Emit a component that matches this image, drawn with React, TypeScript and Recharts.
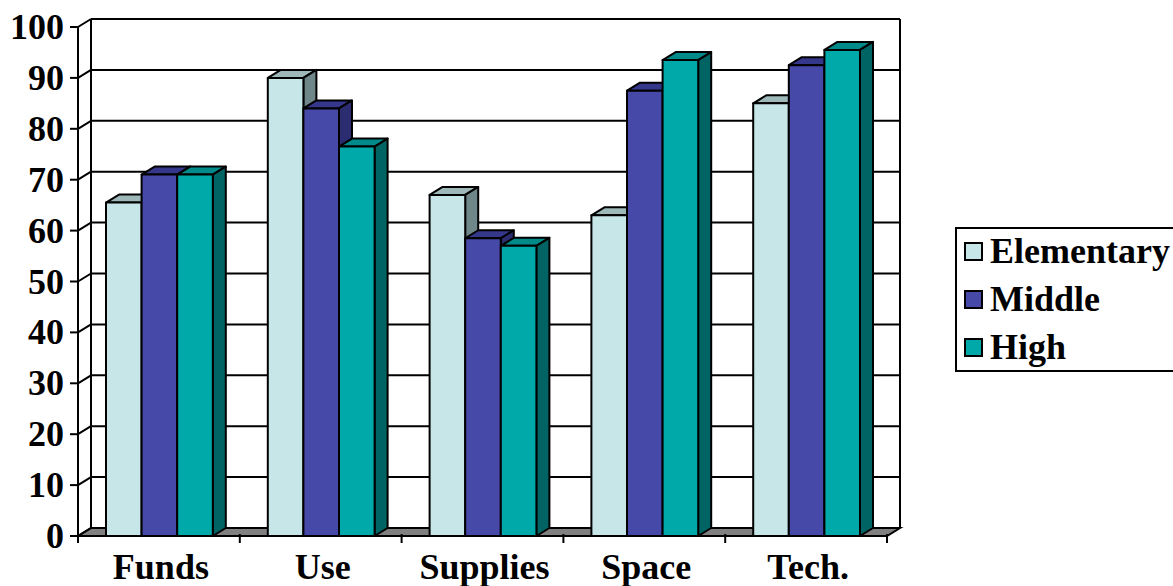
import React from "react";
import { BarChart, Bar, XAxis, YAxis, CartesianGrid, Legend } from "recharts";

// values
const categories = ["Funds", "Use", "Supplies", "Space", "Tech."];
const elementary = [65.5, 90, 67, 63, 85];
const middle = [71, 84, 58.5, 87.5, 92.5];
const high = [71, 76.5, 57, 93.5, 95.5];
const yTicks = [0, 10, 20, 30, 40, 50, 60, 70, 80, 90, 100];

const data = categories.map((c, i) => ({
  category: c,
  Elementary: elementary[i],
  Middle: middle[i],
  High: high[i],
}));

// series colours: front, top, side
const series = [
  { key: "Elementary", front: "#C6E6E8", top: "#9EB8BA", side: "#6F8788" },
  { key: "Middle", front: "#4649A8", top: "#34378A", side: "#2B2D70" },
  { key: "High", front: "#00A9A9", top: "#008A8A", side: "#006464" },
];

const W = 1173;
const H = 586;
const margin = { top: 27, right: 286, bottom: 10, left: 8 };
const Y_AXIS_W = 70;
const X_AXIS_H = 40;
const DX = 13; // depth offset of the 3D walls
const DY = 8;
const FONT = "'Liberation Serif', 'Times New Roman', serif";
const FS = 36;

const plotTop = margin.top;
const plotBottom = H - margin.bottom - X_AXIS_H;

// 3D box for each bar
const make3D = (front: string, top: string, side: string) => (props: any) => {
  const { x, y, width, height } = props;
  if (x == null || !height) return <g />;
  const b = y + height;
  return (
    <g stroke="#000" strokeWidth={2} strokeLinejoin="round">
      <polygon points={`${x},${y} ${x + DX},${y - DY} ${x + width + DX},${y - DY} ${x + width},${y}`} fill={top} />
      <polygon points={`${x + width},${y} ${x + width + DX},${y - DY} ${x + width + DX},${b - DY} ${x + width},${b}`} fill={side} />
      <rect x={x} y={y} width={width} height={height} fill={front} />
    </g>
  );
};

// back wall gridlines, floor and the slanted ticks
const wallLine = (props: any) => {
  const { x1, x2, y1, index } = props;
  const top = props.y ?? plotTop;
  const bottom = props.height != null ? top + props.height : plotBottom;
  const isFloor = Math.abs(y1 - bottom) < 0.5;
  const isTop = Math.abs(y1 - top) < 0.5;
  return (
    <g key={`wall-${index}`} stroke="#000" strokeWidth={2}>
      {isFloor ? (
        <polygon
          points={`${x1},${y1} ${x2},${y1} ${x2 + DX},${y1 - DY} ${x1 + DX},${y1 - DY}`}
          fill="#808080"
        />
      ) : (
        <line x1={x1 + DX} y1={y1 - DY} x2={x2 + DX} y2={y1 - DY} />
      )}
      <line x1={x1} y1={y1} x2={x1 + DX} y2={y1 - DY} />
      {isTop && (
        <>
          <line x1={x1 + DX} y1={y1 - DY} x2={x1 + DX} y2={bottom - DY} />
          <line x1={x2 + DX} y1={y1 - DY} x2={x2 + DX} y2={bottom - DY} />
        </>
      )}
    </g>
  );
};

const YTick = (props: any) => {
  const { x, y, payload } = props;
  return (
    <g>
      <line x1={x} y1={y} x2={x + 8} y2={y} stroke="#000" strokeWidth={2} />
      <text x={x - 6} y={y + 12} textAnchor="end" fontFamily={FONT} fontWeight="bold" fontSize={FS} fill="#000">
        {payload.value}
      </text>
    </g>
  );
};

const XTick = (props: any) => {
  const { x, y, payload, index } = props;
  const half = payload.offset ?? 0;
  return (
    <g>
      <line x1={x - half} y1={y - 10} x2={x - half} y2={y - 1} stroke="#000" strokeWidth={2} />
      {index === categories.length - 1 && (
        <line x1={x + half} y1={y - 10} x2={x + half} y2={y - 1} stroke="#000" strokeWidth={2} />
      )}
      <text x={x + 2} y={y + 35} textAnchor="middle" fontFamily={FONT} fontWeight="bold" fontSize={FS} fill="#000">
        {payload.value}
      </text>
    </g>
  );
};

const LegendBox = () => (
  <div
    style={{
      border: "2px solid #000",
      width: 240,
      height: 145,
      boxSizing: "border-box",
      paddingLeft: 7,
      background: "#fff",
    }}
  >
    <div style={{ marginTop: -2 }}>
      {series.map((s) => (
        <div key={s.key} style={{ display: "flex", alignItems: "center", height: 48 }}>
          <span
            style={{
              width: 15,
              height: 15,
              background: s.front,
              border: "2px solid #000",
              marginRight: 7,
              display: "inline-block",
              flex: "none",
            }}
          />
          <span style={{ fontFamily: FONT, fontWeight: "bold", fontSize: FS, color: "#000", lineHeight: 1 }}>
            {s.key}
          </span>
        </div>
      ))}
    </div>
  </div>
);

export default function App() {
  return (
    <div style={{ position: "absolute", left: 0, top: 0, width: W, height: H, background: "#fff", overflow: "hidden" }}>
      <BarChart width={W} height={H} data={data} margin={margin} barGap={0} barSize={35.6}>
        <CartesianGrid vertical={false} horizontal={wallLine} />
        <XAxis
          dataKey="category"
          height={X_AXIS_H}
          axisLine={false}
          tickLine={false}
          tick={<XTick />}
          interval={0}
        />
        <YAxis
          width={Y_AXIS_W}
          domain={[0, 100]}
          ticks={yTicks}
          interval={0}
          axisLine={{ stroke: "#000", strokeWidth: 2 }}
          tickLine={false}
          tick={<YTick />}
        />
        <Legend
          layout="vertical"
          align="center"
          verticalAlign="middle"
          wrapperStyle={{ left: 955, top: 227, width: 240 }}
          content={() => <LegendBox />}
        />
        {series.map((s) => (
          <Bar
            key={s.key}
            dataKey={s.key}
            fill={s.front}
            isAnimationActive={false}
            shape={make3D(s.front, s.top, s.side)}
          />
        ))}
      </BarChart>
    </div>
  );
}
